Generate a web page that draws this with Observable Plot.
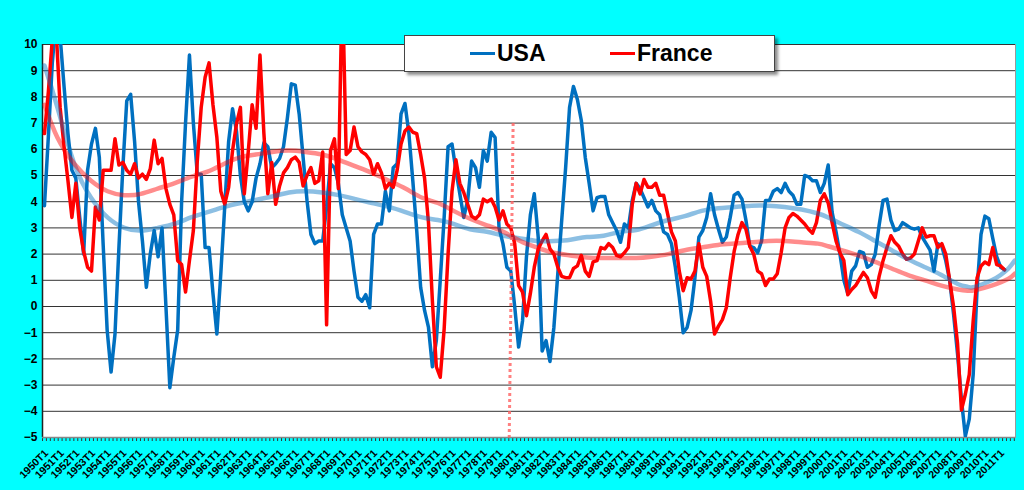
<!DOCTYPE html>
<html><head><meta charset="utf-8">
<script src="https://cdn.jsdelivr.net/npm/d3@7"></script>
<script src="https://cdn.jsdelivr.net/npm/@observablehq/plot@0.6"></script>
<style>
html,body{margin:0;padding:0;background:#00FFFF;}
#wrap{position:relative;width:1024px;height:490px;overflow:hidden;}
#legend{position:absolute;left:404px;top:35px;width:369px;height:35px;background:#fff;border:1px solid #444;box-shadow:3px 3px 3px rgba(0,0,0,0.45);font-family:"Liberation Sans",Arial,sans-serif;font-weight:bold;font-size:23px;line-height:23px;}
.sw{position:absolute;height:3px;width:25px;top:16px;}
.lb{position:absolute;top:6px;color:#000;}
</style></head>
<body><div id="wrap"><div id="chart"></div>
<div id="legend">
<div class="sw" style="left:65px;background:#0070C0"></div><span class="lb" style="left:92px">USA</span>
<div class="sw" style="left:205px;background:#FF0000"></div><span class="lb" style="left:232px">France</span>
</div></div>
<script>
// Categories: quarters 1950T1 .. 2011T4
const quarters = [];
for (let y = 1950; y <= 2011; y++) for (let q = 1; q <= 4; q++) quarters.push(y + "T" + q);

const yTicks = [-5,-4,-3,-2,-1,0,1,2,3,4,5,6,7,8,9,10];

// USA, quarterly growth (%), from 1950T1
const usa = [
 3.85,6.5,9.3,11.0,10.3,8.4,6.6,5.2,4.9,3.4,
 2.0,5.2,6.2,6.8,5.7,2.3,-0.9,-2.5,-1.05,2.25,
 5.3,7.85,8.1,6.3,4.0,2.5,0.73,2.0,2.9,1.9,
 3.0,0,-3.1,-1.95,-0.9,4.0,7.0,9.6,7.0,5.05,
 5.05,2.25,2.25,0.5,-1.05,1.25,3.8,6.3,7.55,6.7,
 5.0,4.0,3.65,4.0,4.9,5.45,6.25,6.1,5.3,5.45,
 5.65,6.1,7.2,8.5,8.45,7.35,5.7,4.05,2.75,2.4,
 2.5,2.5,3.8,5.45,5.3,4.7,3.5,3.0,2.5,1.35,
 0.35,0.2,0.45,-0.05,2.75,3.15,3.15,4.4,3.65,5.3,
 5.45,7.35,7.75,6.6,4.8,2.9,0.73,-0.15,-0.8,-2.3,
 -1.3,1.0,3.4,6.1,6.2,5.2,4.3,3.4,4.05,5.55,
 5.3,4.55,5.95,5.55,6.65,6.45,3.0,2.4,1.5,1.35,
 0,-1.55,-0.55,1.9,3.5,4.3,2.65,-1.7,-1.3,-2.1,
 -0.8,1.25,3.3,5.3,7.6,8.4,7.9,7.1,5.7,4.7,
 3.65,4.15,4.2,4.2,3.5,3.2,2.9,2.45,3.15,3.0,
 4.05,4.7,4.5,4.15,3.8,4.05,3.65,3.5,2.85,2.75,
 2.4,1.5,0.35,-1.0,-0.8,-0.15,1.1,2.65,2.9,3.4,
 4.3,3.5,2.95,2.45,2.65,3.4,4.25,4.35,4.1,3.3,
 2.3,2.25,2.05,2.5,4.05,4.05,4.4,4.5,4.35,4.7,
 4.4,4.25,3.9,3.9,5.0,4.95,4.8,4.8,4.35,4.7,
 5.4,3.6,2.85,2.0,1.0,0.5,1.35,1.55,2.1,2.05,
 1.5,1.6,2.0,3.1,4.05,4.1,3.3,2.9,2.95,3.2,
 3.1,3.0,2.95,3.0,2.65,2.4,2.15,1.35,2.4,2.3,
 1.75,1.0,-0.3,-1.8,-3.55,-4.95,-4.3,-2.6,0.7,2.75,
 3.45,3.35,2.6,1.9,1.5,1.4
];

// France, quarterly growth (%), from 1950T1
const france = [
 6.6,8.2,10.2,10.5,7.6,6.1,4.8,3.4,4.7,3.0,
 2.1,1.5,1.35,3.8,3.3,5.2,5.2,5.2,6.4,5.4,
 5.5,5.2,5.05,5.45,4.9,5.05,4.85,5.25,6.35,5.45,
 5.65,4.5,3.9,3.5,1.75,1.6,0.55,1.75,2.9,5.55,
 7.6,8.75,9.3,7.7,6.45,4.4,3.9,4.55,5.95,6.97,
 7.6,4.3,5.9,7.7,6.8,9.6,6.6,4.3,5.5,3.9,
 4.6,5.1,5.3,5.6,5.7,5.5,4.6,5.0,5.3,4.7,
 4.8,5.9,-0.7,5.95,6.4,4.5,12.5,5.8,5.95,6.85,
 6.1,5.9,5.8,5.6,5.05,5.45,5.1,4.5,4.7,4.55,
 5.2,6.2,6.7,6.85,6.65,6.6,5.8,4.9,3.2,0.2,
 -2.3,-2.7,-0.85,2.0,4.4,5.6,4.7,4.35,3.9,3.45,
 3.35,3.5,4.1,4.0,4.1,3.8,3.3,3.65,3.15,3.0,
 2.4,0.8,0.55,-0.35,0.5,1.5,2.2,2.5,2.75,2.2,
 2.0,1.5,1.15,1.1,1.1,1.45,1.55,1.95,1.35,1.15,
 1.7,1.75,2.25,2.2,2.4,2.25,1.95,1.9,2.05,2.25,
 3.9,4.7,4.3,4.85,4.55,4.55,4.7,4.25,4.25,3.55,
 2.85,2.5,1.35,0.6,1.1,1.05,1.35,2.4,1.5,1.15,
 0.2,-1.05,-0.75,-0.5,-0.05,1.1,2.1,2.75,3.2,2.95,
 2.3,2.0,1.35,1.25,0.8,1.05,1.05,1.25,2.05,3.0,
 3.4,3.55,3.45,3.3,3.15,2.95,2.8,3.2,4.05,4.3,
 3.95,3.2,2.5,2.05,1.75,0.45,0.65,0.8,1.05,1.3,
 1.1,0.6,0.35,1.15,1.75,2.25,2.7,2.45,2.3,2.0,
 1.8,1.85,2.0,2.5,3.0,2.65,2.7,2.7,2.25,2.4,
 2.0,1.0,0,-1.4,-3.95,-3.35,-2.6,-0.55,1.1,1.55,
 1.7,1.6,2.25,1.6,1.55,1.4
];

// Trend lines (read at sample quarters)
const usaTrendQ = [0,3.3,7.6,11.9,16.1,20.4,24.6,28.9,33.1,37.4,41.6,45.9,50.1,58.1,62.4,66.6,70.9,75.1,79.4,83.6,87.9,92.1,96.4,100.4,104.4,108.6,112.9,117.1,121.4,125.7,130,134.2,138.4,142.7,147,151,154.9,159.2,163.4,167.7,171.9,176.2,180.4,184.7,188.9,193.2,197.4,200,203.4,207.7,212,216.2,220.4,224.7,228.9,233.2,235.7,237.4,241.7,244,246,247.6];
const usaTrendV = [9.2,7.6,5.45,4.15,3.4,3.0,2.9,3.0,3.15,3.4,3.6,3.8,3.95,4.2,4.35,4.4,4.35,4.25,4.1,3.95,3.8,3.6,3.4,3.3,3.15,2.95,2.85,2.7,2.6,2.5,2.5,2.55,2.65,2.7,2.85,2.92,3.1,3.3,3.45,3.65,3.75,3.8,3.85,3.85,3.8,3.7,3.55,3.4,3.15,2.85,2.5,2.15,1.8,1.5,1.2,0.85,0.75,0.75,1.0,1.2,1.45,1.75];
const franceTrendQ = [0,3.3,7.6,11.9,16.1,20.4,24.6,28.9,33.1,37.4,41.6,45.9,50.1,53.9,58.1,62.4,66.6,70.9,75.1,79.4,83.6,87.9,92.1,96.4,100.4,104.4,108.6,112.9,117.1,121.4,125.7,130,134.2,138.4,142.7,147,151,154.9,159.2,163.4,167.7,171.9,176.2,180.4,184.7,188.9,193.2,197.4,200,203.4,207.7,212,216.2,220.4,224.7,228.9,233.2,235.7,237.4,241.7,245.9,247.6];
const franceTrendV = [7.7,6.45,5.45,4.8,4.4,4.25,4.3,4.5,4.7,4.95,5.15,5.45,5.7,5.8,5.9,5.95,5.9,5.8,5.6,5.35,5.1,4.8,4.5,4.15,3.95,3.65,3.35,3.1,2.85,2.5,2.25,2.05,1.95,1.87,1.85,1.85,1.85,1.9,2.0,2.15,2.25,2.35,2.4,2.45,2.5,2.5,2.45,2.4,2.3,2.15,1.95,1.7,1.45,1.2,1.0,0.8,0.65,0.6,0.62,0.8,1.05,1.25];

// Dashed marker near 1980T1
const marker = [{q1: 119.6, v1: 7.0, q2: 118.6, v2: -5}];

const usaData = usa.map((v, i) => ({q: i, v}));
const franceData = france.map((v, i) => ({q: i, v}));
const usaTrend = usaTrendQ.map((q, i) => ({q, v: usaTrendV[i]}));
const franceTrend = franceTrendQ.map((q, i) => ({q, v: franceTrendV[i]}));
const quarterTicks = d3.range(0, quarters.length + 1).map(i => i - 0.5);
const yearTicks = d3.range(0, quarters.length, 4);

const chart = Plot.plot({
  width: 1024, height: 490,
  marginLeft: 42, marginRight: 9, marginTop: 44, marginBottom: 53,
  style: {background: "transparent", fontFamily: "Liberation Sans, Arial, sans-serif", color: "#000", overflow: "visible"},
  x: {domain: [-0.5, 247.8], axis: null},
  y: {domain: [-5, 10], axis: null},
  marks: [
    Plot.frame({fill: "white", stroke: "#9a9a9a"}),
    Plot.ruleY(yTicks, {stroke: "#333", strokeWidth: 1}),
    Plot.axisY({ticks: yTicks, tickSize: 0, tickPadding: 5, fontSize: 12, fontWeight: "bold", label: null}),
    Plot.axisX({ticks: quarterTicks, tickSize: 4, tickFormat: () => "", label: null, stroke: "#333"}),
    Plot.axisX({ticks: yearTicks, tickSize: 0, tickPadding: 14, dx: 2, tickRotate: -45, tickFormat: i => quarters[i], fontSize: 10.5, fontWeight: "bold", label: null}),
    Plot.ruleX([-0.5], {stroke: "#222", strokeWidth: 1.5}),
    Plot.ruleY([-5], {stroke: "#888", strokeWidth: 1.5}),
    Plot.line(usaData, {x: "q", y: "v", stroke: "#0070C0", strokeWidth: 3.5, strokeLinejoin: "round", clip: true}),
    Plot.line(franceData, {x: "q", y: "v", stroke: "#FF0000", strokeWidth: 3.5, strokeLinejoin: "round", clip: true}),
    Plot.line(usaTrend, {x: "q", y: "v", curve: "natural", stroke: "#0070C0", strokeOpacity: 0.45, strokeWidth: 4.5, clip: true}),
    Plot.line(franceTrend, {x: "q", y: "v", curve: "natural", stroke: "#FF0000", strokeOpacity: 0.45, strokeWidth: 4.5, clip: true}),
    Plot.link(marker, {x1: "q1", y1: "v1", x2: "q2", y2: "v2", stroke: "#FF6060", strokeOpacity: 0.8, strokeWidth: 3, strokeDasharray: "3,3"})
  ]
});
document.getElementById("chart").appendChild(chart);
</script></body></html>
